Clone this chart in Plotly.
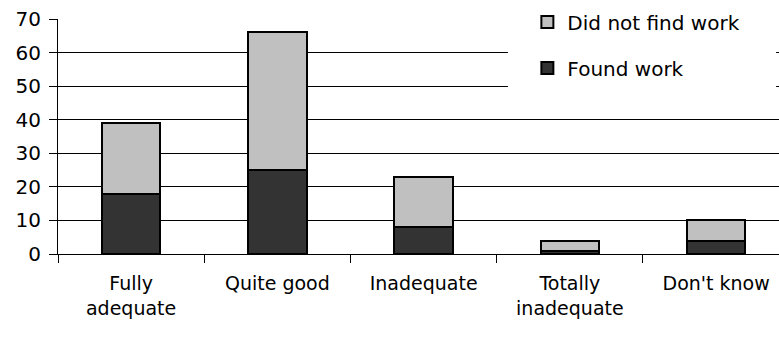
import plotly.graph_objects as go

categories = ["Fully<br>adequate", "Quite good", "Inadequate", "Totally<br>inadequate", "Don't know"]
found_work = [18, 25, 8, 1, 4]
did_not_find_work = [21, 41, 15, 3, 6]
y_ticks = [0, 10, 20, 30, 40, 50, 60, 70]

FONT = "DejaVu Sans"

fig = go.Figure()
fig.add_trace(go.Bar(
    x=categories, y=found_work, name="Found work",
    marker=dict(color="#333333", line=dict(color="#000000", width=2)),
    width=0.4, legend="legend2",
))
fig.add_trace(go.Bar(
    x=categories, y=did_not_find_work, name="Did not find work",
    marker=dict(color="#c0c0c0", line=dict(color="#000000", width=2)),
    width=0.4, legend="legend",
))

# white backing behind the legend that breaks the gridlines
fig.add_shape(type="rect", xref="paper", yref="paper",
              x0=0.624, x1=0.996, y0=0.70, y1=1.12,
              fillcolor="white", line=dict(width=0), layer="above")

legend_style = dict(xanchor="left", yanchor="middle", bgcolor="rgba(0,0,0,0)",
                    font=dict(size=20), x=0.651)

fig.update_layout(
    barmode="stack",
    width=779, height=338,
    margin=dict(l=58, r=0, t=19, b=84),
    paper_bgcolor="white", plot_bgcolor="white",
    font=dict(family=FONT, size=20, color="#000000"),
    showlegend=True,
    legend=dict(legend_style, y=(254 - 22) / 235),
    legend2=dict(legend_style, y=(254 - 68) / 235),
    xaxis=dict(
        range=[-0.5, 4.43], showline=True, linecolor="#000000", linewidth=1,
        ticks="outside", tickson="boundaries", ticklen=8, tickcolor="#000000",
        showgrid=False, tickfont=dict(size=19), ticklabelstandoff=12,
    ),
    yaxis=dict(
        range=[0, 70], tickvals=y_ticks, showline=True, linecolor="#000000",
        linewidth=1, ticks="outside", ticklen=8, tickcolor="#000000",
        showgrid=True, gridcolor="#000000", gridwidth=1,
        tickfont=dict(size=20), zeroline=False, ticklabelstandoff=4,
    ),
)

fig.write_html("out.html")
